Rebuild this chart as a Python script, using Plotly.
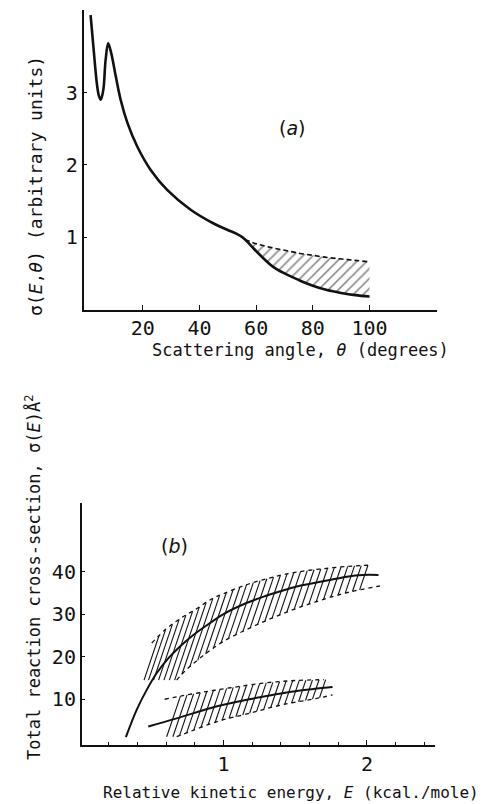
import numpy as np
import plotly.graph_objects as go

# ---------------- Panel (a) data ----------------
theta_a = [1.6, 2.8, 3.8, 4.5, 5.2, 6.1, 6.9, 7.8, 8.9, 10.5, 12.2, 14.6, 18.1, 22.8, 28.7,
           36.9, 45, 50, 53, 55.5, 58, 62, 66, 70, 75, 80, 85, 90, 95, 100]
sigma_a = [4.07, 3.54, 3.13, 2.96, 2.90, 3.04, 3.45, 3.68, 3.54, 3.22, 2.90, 2.58, 2.25,
           1.93, 1.65, 1.38, 1.19, 1.10, 1.05, 0.99, 0.89, 0.73, 0.59, 0.50, 0.41, 0.33,
           0.27, 0.23, 0.20, 0.18]
theta_up = [56, 60, 65, 70, 75, 80, 85, 90, 95, 100]
sigma_up = [0.97, 0.91, 0.86, 0.82, 0.78, 0.75, 0.72, 0.70, 0.68, 0.66]
xticks_a = [20, 40, 60, 80, 100]
yticks_a = [1, 2, 3]

# ---------------- Panel (b) data ----------------
E_hi = [0.32, 0.395, 0.465, 0.534, 0.615, 0.697, 0.79, 0.906, 1.0, 1.16, 1.28, 1.39,
        1.51, 1.63, 1.74, 1.86, 1.97, 2.08]
S_hi = [1.1, 7.5, 12.2, 16.1, 19.6, 22.4, 25.1, 27.9, 30.0, 32.6, 34.1, 35.3,
        36.5, 37.3, 38.0, 38.8, 39.2, 39.2]
E_hi_top = [0.50, 0.60, 0.70, 0.80, 0.92, 1.0, 1.15, 1.30, 1.45, 1.60, 1.76, 1.90, 2.02]
S_hi_top = [23.2, 26.5, 29.0, 31.0, 33.6, 34.8, 36.8, 38.3, 39.5, 40.3, 40.9, 41.3, 41.5]
E_hi_bot = [0.674, 0.74, 0.88, 1.0, 1.15, 1.30, 1.45, 1.60, 1.76, 1.92, 2.09]
S_hi_bot = [14.5, 16.9, 20.8, 23.6, 26.2, 28.5, 30.6, 32.4, 34.1, 35.5, 36.6]

E_lo = [0.476, 0.674, 0.906, 1.0, 1.18, 1.34, 1.50, 1.65, 1.76]
S_lo = [3.6, 5.5, 7.9, 8.7, 10.0, 11.0, 11.9, 12.5, 12.9]
E_lo_top = [0.59, 0.71, 0.88, 1.05, 1.28, 1.50, 1.70]
S_lo_top = [10.0, 10.8, 11.8, 12.7, 13.8, 14.4, 14.6]
E_lo_bot = [0.674, 0.766, 0.95, 1.18, 1.41, 1.65, 1.76]
S_lo_bot = [1.2, 2.4, 4.7, 6.7, 8.7, 10.2, 11.0]
xticks_b = [1, 2]
yticks_b = [10, 20, 30, 40]

FONT = "DejaVu Sans Mono"
INK = "#111111"


def hatch(top_x, top_y, bot_x, bot_y, tops, slope):
    xs, ys = [], []
    grid = np.linspace(min(bot_x) - 0.6, max(top_x), 3000)
    low = np.interp(grid, bot_x, bot_y)
    for et in tops:
        st = float(np.interp(et, top_x, top_y))
        line = st - slope * (et - grid)
        idx = np.where((grid <= et) & (line - low <= 0))[0]
        if len(idx) == 0:
            continue
        eb = float(grid[idx[-1]])
        sb = float(np.interp(eb, bot_x, bot_y))
        xs += [eb, et, None]
        ys += [sb, st, None]
    return xs, ys


fig = go.Figure()

# ---- (a) hatched region ----
th_grid = np.linspace(theta_up[0], theta_up[-1], 60)
poly_x = list(th_grid) + list(th_grid[::-1])
poly_y = list(np.interp(th_grid, theta_up, sigma_up)) + list(np.interp(th_grid[::-1], theta_a, sigma_a))
fig.add_trace(go.Scatter(
    x=poly_x, y=poly_y, mode="none", fill="toself", fillcolor="rgba(255,255,255,0)",
    fillpattern=dict(shape="/", fgcolor="#000000", bgcolor="rgba(255,255,255,0)", size=7,
                     solidity=0.22, fillmode="overlay"),
    xaxis="x", yaxis="y", showlegend=False, hoverinfo="skip"))
fig.add_trace(go.Scatter(x=theta_up, y=sigma_up, mode="lines",
                         line=dict(color=INK, width=1.6, dash="5px,3px", shape="spline"),
                         xaxis="x", yaxis="y", showlegend=False))
fig.add_trace(go.Scatter(x=theta_a, y=sigma_a, mode="lines",
                         line=dict(color=INK, width=2.6, shape="spline", smoothing=1.0),
                         xaxis="x", yaxis="y", showlegend=False))

# ---- (b) hatching ----
hx1, hy1 = hatch(E_hi_top, S_hi_top, E_hi_bot, S_hi_bot, np.arange(0.55, 2.03, 0.047), 100)
hx2, hy2 = hatch(E_lo_top, S_lo_top, E_lo_bot, S_lo_bot, np.arange(0.70, 1.73, 0.046), 100)
for hx, hy in [(hx1, hy1), (hx2, hy2)]:
    fig.add_trace(go.Scatter(x=hx, y=hy, mode="lines", line=dict(color=INK, width=1.1),
                             xaxis="x2", yaxis="y2", showlegend=False, hoverinfo="skip"))
for ex, sy in [(E_hi_top, S_hi_top), (E_hi_bot, S_hi_bot), (E_lo_top, S_lo_top), (E_lo_bot, S_lo_bot)]:
    fig.add_trace(go.Scatter(x=ex, y=sy, mode="lines",
                             line=dict(color=INK, width=1.3, dash="4px,4px", shape="spline"),
                             xaxis="x2", yaxis="y2", showlegend=False))
for ex, sy in [(E_hi, S_hi), (E_lo, S_lo)]:
    fig.add_trace(go.Scatter(x=ex, y=sy, mode="lines",
                             line=dict(color=INK, width=2, shape="spline"),
                             xaxis="x2", yaxis="y2", showlegend=False))

W, H = 486, 804
tickfont = dict(family=FONT, size=20, color=INK)
axis_common = dict(showline=True, linecolor=INK, linewidth=1.5, showgrid=False,
                   zeroline=False, ticks="inside", tickcolor=INK, tickfont=tickfont,
                   mirror=False)

fig.update_layout(
    width=W, height=H, margin=dict(l=0, r=0, t=0, b=0),
    paper_bgcolor="white", plot_bgcolor="white",
    xaxis=dict(domain=[83.5 / W, 437 / W], anchor="y", range=[-0.9, 123.8],
               tickvals=xticks_a, ticklen=5, **axis_common),
    yaxis=dict(domain=[1 - 309.6 / H, 1 - 10 / H], anchor="x", range=[0, 4.14],
               tickvals=yticks_a, ticklen=4, **axis_common),
    xaxis2=dict(domain=[81.7 / W, 435 / W], anchor="y2", range=[0.012, 2.474],
                tickvals=xticks_b, ticklen=5,
                minor=dict(tick0=0, dtick=0.2, ticks="inside", ticklen=3, tickcolor=INK),
                **axis_common),
    yaxis2=dict(domain=[1 - 745 / H, 1 - 503 / H], anchor="x2", range=[-0.75, 56.1],
                tickvals=yticks_b, ticklen=4, **axis_common),
)

ann = [
    dict(text="σ(<i>E</i>,<i>θ</i>) (arbitrary units)", x=35 / W, y=1 - 186 / H,
         textangle=-90, size=18),
    dict(text="Scattering angle, <i>θ</i> (degrees)", x=300 / W, y=1 - 350 / H,
         textangle=0, size=17),
    dict(text="Total reaction cross-section, σ(<i>E</i>)Å<sup>2</sup>", x=33 / W,
         y=1 - 578 / H, textangle=-90, size=17),
    dict(text="Relative kinetic energy, <i>E</i> (kcal./mole)", x=291 / W, y=1 - 792 / H,
         textangle=0, size=16),
]
for a in ann:
    sz = a.pop("size")
    fig.add_annotation(xref="paper", yref="paper", showarrow=False,
                       font=dict(family=FONT, size=sz, color=INK),
                       xanchor="center", yanchor="middle", **a)

fig.add_annotation(x=73, y=2.51, xref="x", yref="y", text="(<i>a</i>)", showarrow=False,
                   font=dict(family="DejaVu Sans", size=19, color=INK))
fig.add_annotation(x=0.66, y=45.9, xref="x2", yref="y2", text="(<i>b</i>)", showarrow=False,
                   font=dict(family="DejaVu Sans", size=19, color=INK))

fig.write_html("out.html", config={"displayModeBar": False},
               post_script="document.body.style.margin='0';")
